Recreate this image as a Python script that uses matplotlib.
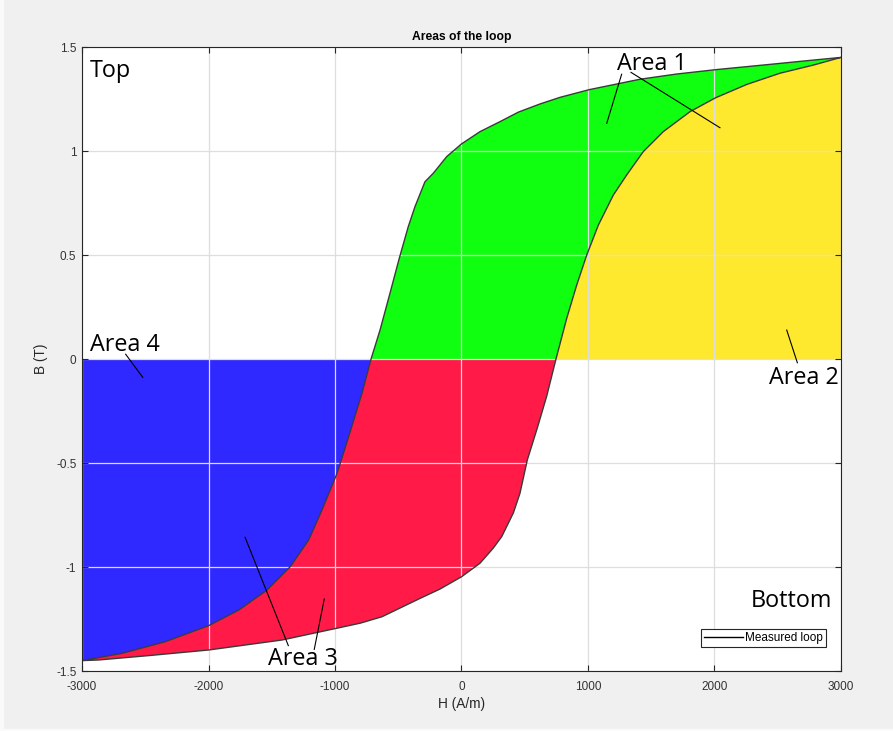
import numpy as np
import matplotlib
matplotlib.use("Agg")
import matplotlib.pyplot as plt
from matplotlib.patches import Rectangle

# Descending (upper) branch of the measured B-H loop, ordered by H
desc_H = [-3000, -2684, -2342, -1999, -1761, -1538, -1353, -1208, -1103, -984,
          -892, -787, -715, -644, -565, -492, -421, -368, -289, -223,
          -117, 0, 146, 304, 450, 620, 779, 1010, 1411, 1700,
          2009, 2465, 2729, 3000]
desc_B = [-1.45, -1.415, -1.359, -1.282, -1.207, -1.111, -0.998, -0.87, -0.726, -0.55,
          -0.373, -0.165, 0.0, 0.139, 0.317, 0.484, 0.636, 0.732, 0.852, 0.893,
          0.973, 1.034, 1.093, 1.141, 1.187, 1.226, 1.258, 1.295, 1.345, 1.37,
          1.391, 1.418, 1.434, 1.45]

# Ascending (lower) branch of the loop, ordered by H
asc_H = [-3000, -2868, -2473, -1999, -1419, -990, -800, -628, -328, -170,
         0, 146, 250, 318, 410, 462, 520, 600, 673, 747,
         832, 911, 990, 1082, 1200, 1306, 1437, 1595, 1806, 2009,
         2255, 2518, 2781, 3000]
asc_B = [-1.45, -1.447, -1.426, -1.399, -1.351, -1.295, -1.27, -1.239, -1.151, -1.106,
         -1.047, -0.982, -0.91, -0.854, -0.74, -0.646, -0.486, -0.33, -0.18, 0.0,
         0.196, 0.356, 0.5, 0.644, 0.788, 0.885, 0.997, 1.093, 1.189, 1.256,
         1.32, 1.374, 1.413, 1.45]

x_ticks = [-3000, -2000, -1000, 0, 1000, 2000, 3000]
y_ticks = [-1.5, -1, -0.5, 0, 0.5, 1, 1.5]
y_tick_labels = ["-1.5", "-1", "-0.5", "0", "0.5", "1", "1.5"]

area_colors = {"Area 1": "#10ff10", "Area 2": "#ffe92e",
               "Area 3": "#ff1a48", "Area 4": "#2f28ff"}

dH = np.array(desc_H, float)
dB = np.array(desc_B, float)
aH = np.array(asc_H, float)
aB = np.array(asc_B, float)
h_min, h_max = dH[0], dH[-1]

fig = plt.figure(figsize=(8.93, 7.31), dpi=100, facecolor="#f0f0f0")
# thin light frame on the figure edges
fig.patches.append(Rectangle((0, 0), 3 / 893, 1, transform=fig.transFigure,
                             color="#fafafa", zorder=0))
fig.patches.append(Rectangle((0, 0), 1, 2 / 731, transform=fig.transFigure,
                             color="#fafafa", zorder=0))

ax = fig.add_axes([82 / 893, 60 / 731, 759 / 893, 624 / 731])
ax.set_facecolor("white")

up_d, lo_d = dB >= 0, dB <= 0
up_a, lo_a = aB >= 0, aB <= 0

# Area 1: between the branches, B > 0
ax.fill(np.concatenate([dH[up_d], aH[up_a][::-1]]),
        np.concatenate([dB[up_d], aB[up_a][::-1]]),
        color=area_colors["Area 1"], lw=0, zorder=1)
# Area 2: right of the ascending branch, B > 0
ax.fill(np.concatenate([aH[up_a], [h_max]]),
        np.concatenate([aB[up_a], [0.0]]),
        color=area_colors["Area 2"], lw=0, zorder=1)
# Area 3: between the branches, B < 0
ax.fill(np.concatenate([dH[lo_d], aH[lo_a][::-1]]),
        np.concatenate([dB[lo_d], aB[lo_a][::-1]]),
        color=area_colors["Area 3"], lw=0, zorder=1)
# Area 4: left of the descending branch, B < 0
ax.fill(np.concatenate([dH[lo_d], [h_min]]),
        np.concatenate([dB[lo_d], [0.0]]),
        color=area_colors["Area 4"], lw=0, zorder=1)

# the measured loop itself
ax.plot(np.concatenate([dH[::-1], aH]), np.concatenate([dB[::-1], aB]),
        color="#3a3a3a", lw=1.0, zorder=3, label="Measured loop",
        solid_joinstyle="round")

ax.set_xlim(-3000, 3000)
ax.set_ylim(-1.5, 1.5)
ax.set_xticks(x_ticks)
ax.set_xticklabels([str(v) for v in x_ticks])
ax.set_yticks(y_ticks)
ax.set_yticklabels(y_tick_labels)

tick_family = ["Liberation Sans", "DejaVu Sans"]
for lab in ax.get_xticklabels() + ax.get_yticklabels():
    lab.set_fontfamily(tick_family)
    lab.set_fontsize(8.5)
    lab.set_color("#333333")

ax.tick_params(axis="both", direction="in", length=4, width=0.8,
               color="#262626", top=True, right=True)
ax.tick_params(axis="x", pad=7)
ax.tick_params(axis="y", pad=4)

ax.grid(True, color="#dedede", lw=0.9, zorder=2)
ax.set_axisbelow(False)
for g in ax.get_xgridlines() + ax.get_ygridlines():
    g.set_zorder(2)

for sp in ax.spines.values():
    sp.set_color("#262626")
    sp.set_linewidth(0.8)
    sp.set_zorder(5)

lab_font = {"family": ["Liberation Sans", "DejaVu Sans"], "size": 9.8, "color": "#262626"}
ax.set_xlabel("H (A/m)", fontdict=lab_font, labelpad=3)
ax.set_ylabel("B (T)", fontdict=lab_font, labelpad=6)
ax.set_title("Areas of the loop", fontdict={"family": ["Liberation Sans", "DejaVu Sans"],
                                            "size": 8.7, "weight": "bold"}, pad=5)

# region labels with leader lines
note_font = {"family": ["Open Sans", "DejaVu Sans"], "size": 16.8, "color": "black"}
labels = [("Top", -2937, 1.356), ("Bottom", 2286, -1.19),
          ("Area 1", 1229, 1.389), ("Area 2", 2431, -0.12),
          ("Area 3", -1533, -1.471), ("Area 4", -2937, 0.04)]
for txt, hx, by in labels:
    ax.text(hx, by, txt, ha="left", va="baseline", zorder=6, **note_font)

leaders = [((1266, 1.369), (1148, 1.133)),
           ((1340, 1.378), (2043, 1.112)),
           ((2571, 0.139), (2655, -0.018)),
           ((-1711, -0.857), (-1369, -1.378)),
           ((-1085, -1.154), (-1164, -1.396)),
           ((-2655, 0.023), (-2520, -0.088))]
for (x0, y0), (x1, y1) in leaders:
    ax.plot([x0, x1], [y0, y1], color="black", lw=0.8, zorder=6)

leg = ax.legend(loc="lower right", bbox_to_anchor=(0.980, 0.038), borderaxespad=0,
                fancybox=False, edgecolor="#262626", framealpha=1,
                prop={"family": ["Liberation Sans", "DejaVu Sans"], "size": 8.5},
                handlelength=3.3, handletextpad=0.2, borderpad=0.25)
leg.get_frame().set_linewidth(0.8)
leg.legend_handles[0].set_color("black")
leg.set_zorder(7)

fig.savefig("out.png", dpi=100, facecolor=fig.get_facecolor())
